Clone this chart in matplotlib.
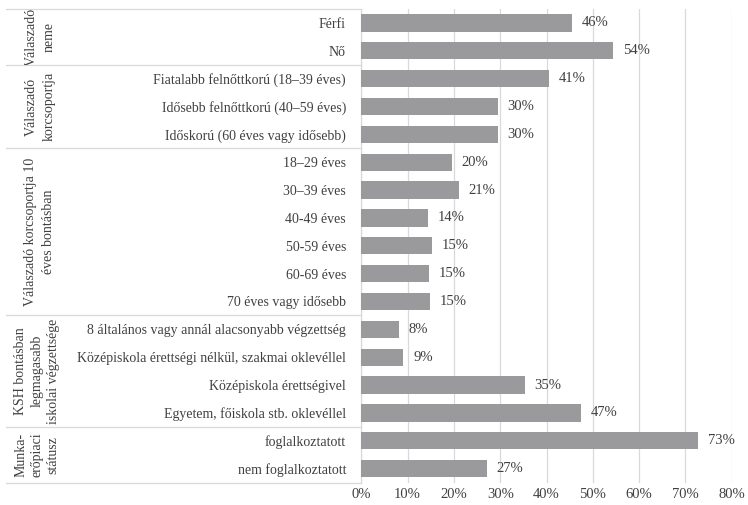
import numpy as np
import matplotlib.pyplot as plt
from matplotlib.transforms import blended_transform_factory, Bbox, TransformedBbox

plt.rcParams['font.family'] = ['Liberation Serif', 'DejaVu Serif']

# categories (top to bottom)
categories = [
    "Férfi", "Nő",
    "Fiatalabb felnőttkorú (18–39 éves)", "Idősebb felnőttkorú (40–59 éves)",
    "Időskorú (60 éves vagy idősebb)",
    "18–29 éves", "30–39 éves", "40-49 éves", "50-59 éves", "60-69 éves",
    "70 éves vagy idősebb",
    "8 általános vagy annál alacsonyabb végzettség",
    "Középiskola érettségi nélkül, szakmai oklevéllel",
    "Középiskola érettségivel", "Egyetem, főiskola stb. oklevéllel",
    "foglalkoztatott", "nem foglalkoztatott",
]
values = [45.6, 54.4, 40.6, 29.5, 29.5, 19.5, 21.0, 14.3, 15.2, 14.6, 14.9,
          8.2, 9.1, 35.3, 47.4, 72.8, 27.1]
value_labels = ["46%", "54%", "41%", "30%", "30%", "20%", "21%", "14%", "15%",
                "15%", "15%", "8%", "9%", "35%", "47%", "73%", "27%"]

# groups: (label, first row, last row)
group_names = [
    "Válaszadó\nneme",
    "Válaszadó\nkorcsoportja",
    "Válaszadó korcsoportja 10\néves bontásban",
    "KSH bontásban\nlegmagasabb\niskolai végzettsége",
    "Munka-\nerőpiaci\nstátusz",
]
group_rows = [(0, 1), (2, 4), (5, 10), (11, 14), (15, 16)]

xticks = [0, 10, 20, 30, 40, 50, 60, 70, 80]

bar_color = "#9a9a9c"
line_color = "#d9d9d9"
text_color = "#404040"

W, H = 748, 505
fig = plt.figure(figsize=(W / 100, H / 100), dpi=100)
ax = fig.add_axes([361.3 / W, 1 - 482.5 / H, (731.7 - 361.3) / W, (482.5 - 9) / H])

y = np.arange(len(categories))
ax.barh(y, values, height=0.62, color=bar_color, zorder=3)
for yi, v, lab in zip(y, values, value_labels):
    ax.annotate(lab, (v, yi), xytext=(7, 0), textcoords="offset points",
                ha="left", va="center", fontsize=10.5, color=text_color)

ax.set_xlim(0, 80)
ax.set_ylim(len(categories) - 0.5, -0.5)
ax.set_xticks(xticks)
ax.set_xticklabels([f"{t}%" for t in xticks], fontsize=10.5, color=text_color)
ax.set_yticks(y)
ax.set_yticklabels(categories, fontsize=10, color=text_color)
ax.tick_params(axis="both", length=0)
ax.tick_params(axis="y", pad=11)
ax.tick_params(axis="x", pad=4)
ax.grid(axis="x", color=line_color, linewidth=0.9, zorder=0)
for s in ["top", "right", "bottom"]:
    ax.spines[s].set_visible(False)
ax.spines["left"].set_color(line_color)
ax.spines["left"].set_linewidth(0.9)

# group separators and group labels in the left panel
tr = blended_transform_factory(fig.transFigure, ax.transData)
x0, x1 = 6 / W, 361.3 / W
bounds = [-0.5] + [last + 0.5 for _, last in group_rows]
for b in bounds:
    ax.plot([x0, x1], [b, b], transform=tr, color=line_color, linewidth=0.9,
            clip_on=False)

for name, (first, last) in zip(group_names, group_rows):
    nlines = name.count("\n") + 1
    t = ax.text((40 if nlines == 2 else 37) / W, (first + last) / 2, name,
                transform=tr, rotation=90, ha="center", va="center",
                multialignment="center", fontsize=10, color=text_color,
                linespacing=1.5 if nlines == 2 else 1.3)
    box = Bbox([[x0, first - 0.5], [x1, last + 0.5]])
    t.set_clip_box(TransformedBbox(box, tr))
    t.set_clip_on(True)

fig.savefig("out.png", dpi=100)
